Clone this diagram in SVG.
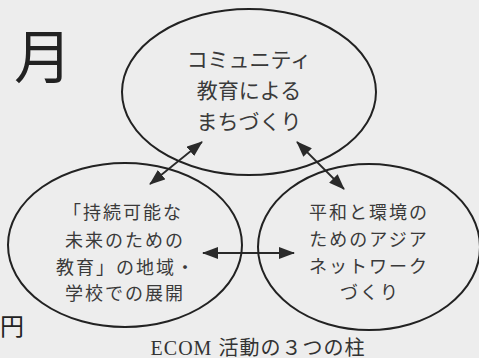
<svg xmlns="http://www.w3.org/2000/svg" width="479" height="358" viewBox="0 0 479 358">
<defs>
<style>
.ell{fill:none;stroke:#222;stroke-width:2}
.lbl{font-family:"Noto Sans CJK JP","Noto Sans",sans-serif;fill:#3a3a3a;text-anchor:middle}
.sm{font-size:18px;letter-spacing:2px}
.conn{stroke:#2a2a2a;stroke-width:1.8;fill:none}
.cap{font-family:"Liberation Serif","Noto Sans CJK JP",serif;fill:#333;text-anchor:middle}
.side{font-family:"Noto Sans CJK JP",sans-serif;fill:#222}
</style>
<marker id="ah2" viewBox="0 0 16 12" refX="15" refY="6" markerWidth="16" markerHeight="12" markerUnits="userSpaceOnUse" orient="auto-start-reverse">
<path d="M0,0 L16,6 L0,12 z" fill="#2a2a2a"/>
</marker>
</defs>
<rect width="479" height="358" fill="#ededed"/>
<text class="side" x="14" y="78" font-size="58">月</text>
<text class="side" x="0" y="335" font-size="24">円</text>
<g id="connectors">
<line class="conn" x1="150" y1="184" x2="202" y2="142" marker-start="url(#ah2)" marker-end="url(#ah2)"/>
<line class="conn" x1="297" y1="142" x2="344" y2="189" marker-start="url(#ah2)" marker-end="url(#ah2)"/>
<line class="conn" x1="203" y1="253" x2="294" y2="253" marker-start="url(#ah2)" marker-end="url(#ah2)"/>
</g>
<g id="node-community">
<ellipse class="ell" cx="249" cy="92" rx="127" ry="83"/>
<text class="lbl" font-size="21"><tspan x="249" y="67">コミュニティ</tspan><tspan x="249" y="98">教育による</tspan><tspan x="249" y="129">まちづくり</tspan></text>
</g>
<g id="node-esd">
<ellipse class="ell" cx="125" cy="245" rx="117" ry="82"/>
<text class="lbl sm"><tspan x="123" y="219">「持続可能な</tspan><tspan x="125" y="247">未来のための</tspan><tspan x="126" y="274">教育」の地域・</tspan><tspan x="125" y="300">学校での展開</tspan></text>
</g>
<g id="node-asia">
<ellipse class="ell" cx="369" cy="247" rx="111" ry="83"/>
<text class="lbl sm"><tspan x="369" y="219">平和と環境の</tspan><tspan x="369" y="246">ためのアジア</tspan><tspan x="369" y="273">ネットワーク</tspan><tspan x="370" y="299">づくり</tspan></text>
</g>
<text class="cap" x="258" y="355" font-size="20" letter-spacing="1">ECOM 活動の３つの柱</text>
</svg>
